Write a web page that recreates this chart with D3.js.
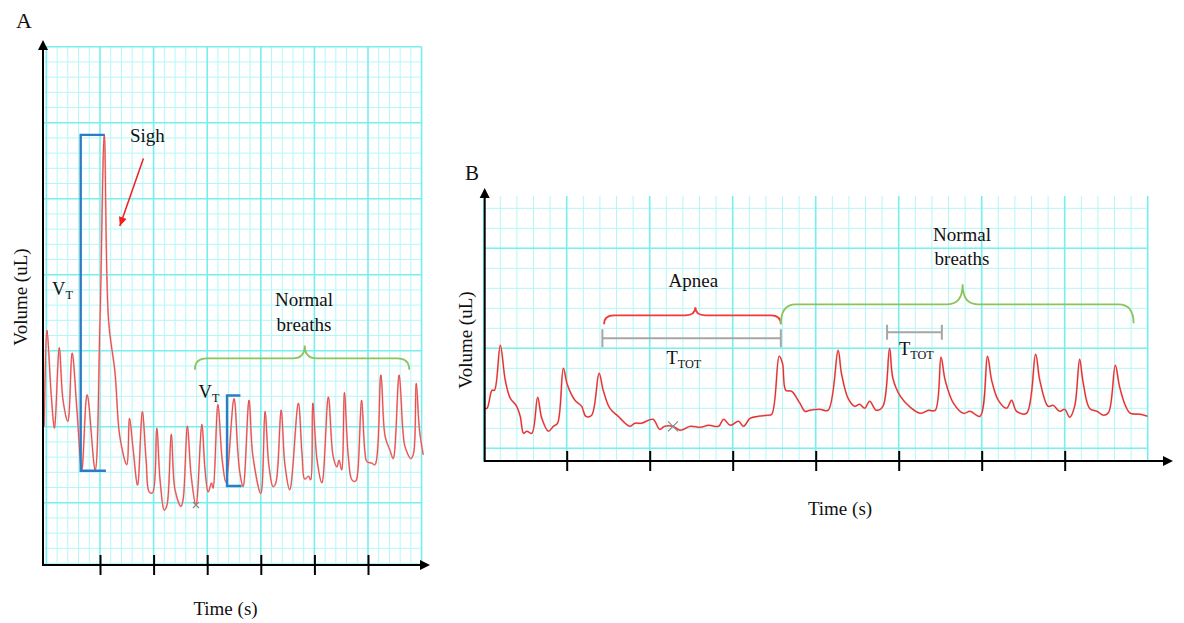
<!DOCTYPE html>
<html><head><meta charset="utf-8">
<script src="https://cdn.jsdelivr.net/npm/d3@7"></script>
<style>
body{margin:0;background:#fff}
svg{display:block}
text{font-family:"Liberation Serif","Times New Roman",serif;fill:#111}
</style>
</head><body>
<svg id="c" width="1184" height="623"></svg>
<script>
// ---------- DATA (panel A: sigh recording) ----------
const timeA = [-0.04,0.01,0.09,0.15,0.24,0.31,0.40,0.48,0.57,0.66,0.76,0.91,1.00,1.08,1.16,1.28,1.37,1.50,1.55,1.62,1.70,1.79,1.86,1.92,1.98,2.06,2.12,2.20,2.25,2.33,2.40,2.51,2.55,2.63,2.70,2.79,2.90,2.96,3.02,3.08,3.11,3.20,3.28,3.35,3.50,3.57,3.61,3.67,3.78,3.85,4.00,4.08,4.15,4.23,4.28,4.38,4.45,4.54,4.70,4.77,4.82,4.89,4.93,4.97,5.05,5.14,5.26,5.35,5.42,5.46,5.51,5.56,5.63,5.70,5.76,5.79,5.88,5.94,5.98,6.07,6.13,6.24,6.32,6.41,6.47,6.58,6.65,6.69,6.80,6.85,6.90,6.96,7.03];
const volA  = [2.00,3.27,2.42,1.98,3.04,2.35,2.07,2.97,2.22,1.43,2.42,1.43,3.40,5.84,3.40,2.71,1.87,1.50,2.11,1.69,1.23,2.20,1.56,1.14,1.13,1.98,1.30,0.90,0.97,1.90,1.17,0.95,1.04,2.01,1.36,0.97,2.03,1.43,1.14,1.26,1.19,2.29,1.56,1.27,2.37,1.69,1.39,1.21,2.35,1.63,1.12,2.20,1.50,1.21,1.26,2.22,1.50,1.17,2.31,1.63,1.31,1.35,1.30,2.31,1.56,1.26,2.39,1.61,1.47,1.56,1.43,2.45,1.63,1.30,1.28,1.31,2.35,1.69,1.54,1.52,1.50,2.68,1.87,1.69,1.58,2.68,1.96,1.74,1.58,1.65,2.57,1.96,1.63];
// ---------- DATA (panel B: apnea recording) ----------
const timeB = [0.01,0.04,0.10,0.13,0.20,0.26,0.32,0.39,0.44,0.48,0.52,0.58,0.65,0.70,0.78,0.84,0.89,0.96,1.01,1.10,1.18,1.23,1.30,1.39,1.44,1.52,1.62,1.76,1.82,1.90,2.04,2.12,2.18,2.28,2.37,2.49,2.61,2.71,2.83,2.89,2.97,3.07,3.13,3.21,3.31,3.41,3.47,3.56,3.60,3.64,3.71,3.81,3.87,3.93,4.05,4.15,4.27,4.31,4.39,4.47,4.53,4.59,4.65,4.73,4.81,4.89,4.93,5.02,5.14,5.26,5.36,5.44,5.51,5.56,5.66,5.78,5.86,5.98,6.07,6.12,6.20,6.30,6.36,6.42,6.54,6.65,6.70,6.80,6.86,6.94,7.00,7.06,7.12,7.18,7.22,7.30,7.39,7.47,7.53,7.61,7.66,7.73,7.79,7.91,8.00];
const volB  = [1.40,1.40,1.58,1.58,2.03,1.68,1.50,1.43,1.32,1.15,1.17,1.15,1.51,1.30,1.17,1.22,1.25,1.80,1.63,1.48,1.42,1.32,1.33,1.75,1.58,1.40,1.32,1.22,1.25,1.25,1.29,1.19,1.22,1.22,1.18,1.22,1.21,1.23,1.22,1.29,1.23,1.27,1.22,1.30,1.32,1.33,1.34,1.92,1.85,1.58,1.57,1.45,1.37,1.38,1.39,1.38,1.98,1.75,1.50,1.42,1.44,1.40,1.47,1.38,1.42,2.00,1.70,1.52,1.41,1.35,1.38,1.38,1.91,1.68,1.45,1.35,1.37,1.32,1.92,1.68,1.48,1.40,1.48,1.37,1.35,1.94,1.68,1.42,1.43,1.37,1.39,1.31,1.42,1.89,1.67,1.40,1.37,1.33,1.36,1.83,1.62,1.43,1.35,1.34,1.32];
const ticksA = [1,2,3,4,5,6];
const ticksB = [1,2,3,4,5,6,7];
const markA = [2.79, 0.97];           // "x" marker, panel A
const markB = [2.28, 1.22];           // "x" marker, panel B
const panelLabels = ["A","B"];
const xTitle = "Time (s)";
const yTitle = "Volume (uL)";
const noteSigh = "Sigh";
const noteNormal = ["Normal","breaths"];
const noteApnea = "Apnea";

// ---------- SETUP ----------
const svg = d3.select("#c");
const FONT = 19;
const C_MINOR = "#b4f7f7", C_MAJOR = "#78eeee";
const BLUE = "#2f7cc6", GREEN = "#8cc35c", GRAY = "#a6a6a6", RED = "#f01e1e";

function arrowHead(g, x, y, dir){
  const s = 5, l = 10;
  const pts = dir==="up" ? [[x,y],[x-s,y+l],[x+s,y+l]] : [[x,y],[x-l,y-s],[x-l,y+s]];
  g.append("path").attr("d","M"+pts.map(p=>p.join(",")).join("L")+"Z").attr("fill","#000");
}

function grid(g, x, y, tMax, vMin, vMax, yTop, yBot, xLeft, xRight){
  const vt = d3.range(0, tMax+1e-6, 0.2).map(d=>+d.toFixed(2));
  const hv = d3.range(vMin, vMax+1e-6, 0.2).map(d=>+d.toFixed(2));
  const isMaj = d => Math.abs(d-Math.round(d))<1e-6;
  g.selectAll(null).data(vt.filter(d=>!isMaj(d))).join("line")
    .attr("x1",d=>x(d)).attr("x2",d=>x(d)).attr("y1",yTop).attr("y2",yBot)
    .attr("stroke",C_MINOR).attr("stroke-width",1);
  g.selectAll(null).data(hv.filter(d=>!isMaj(d))).join("line")
    .attr("y1",d=>y(d)).attr("y2",d=>y(d)).attr("x1",xLeft).attr("x2",xRight)
    .attr("stroke",C_MINOR).attr("stroke-width",1);
  g.selectAll(null).data(vt.filter(isMaj)).join("line")
    .attr("x1",d=>x(d)).attr("x2",d=>x(d)).attr("y1",yTop).attr("y2",yBot)
    .attr("stroke",C_MAJOR).attr("stroke-width",1.6);
  g.selectAll(null).data(hv.filter(isMaj)).join("line")
    .attr("y1",d=>y(d)).attr("y2",d=>y(d)).attr("x1",xLeft).attr("x2",xRight)
    .attr("stroke",C_MAJOR).attr("stroke-width",1.6);
}

function axes(g, x, ticks, axX, axY, yTopArrow, xRightArrow){
  const ax = g.append("g").attr("transform",`translate(0,${axY})`)
    .call(d3.axisBottom(x).tickValues(ticks).tickFormat("").tickSizeOuter(0));
  ax.select(".domain").remove();
  ax.selectAll(".tick line").attr("y1",-10).attr("y2",10).attr("stroke","#000").attr("stroke-width",2);
  g.append("line").attr("x1",axX).attr("x2",xRightArrow-8).attr("y1",axY).attr("y2",axY).attr("stroke","#000").attr("stroke-width",2);
  g.append("line").attr("x1",axX).attr("x2",axX).attr("y1",axY+1).attr("y2",yTopArrow+8).attr("stroke","#000").attr("stroke-width",2);
  arrowHead(g, xRightArrow, axY, "right");
  arrowHead(g, axX, yTopArrow, "up");
}

function brace(g, x1, x2, xm, y, yEndL, yEndR, yPeak, rx, color){
  const p = d3.path();
  p.moveTo(x1, yEndL);
  p.quadraticCurveTo(x1, y, x1+rx, y);
  p.lineTo(xm-rx, y);
  p.quadraticCurveTo(xm, y, xm, yPeak);
  p.quadraticCurveTo(xm, y, xm+rx, y);
  p.lineTo(x2-rx, y);
  p.quadraticCurveTo(x2, y, x2, yEndR);
  g.append("path").attr("d",p.toString()).attr("fill","none").attr("stroke",color).attr("stroke-width",1.8);
}

function cross(g, cx, cy, s, color){
  g.append("path").attr("d",`M${cx-s},${cy-s}L${cx+s},${cy+s}M${cx-s},${cy+s}L${cx+s},${cy-s}`)
    .attr("stroke",color).attr("stroke-width",1.2);
}

function sub(g, x, y, main, subTxt, size){
  const t = g.append("text").attr("x",x).attr("y",y).attr("font-size",size);
  t.append("tspan").text(main);
  t.append("tspan").attr("font-size",size*0.66).attr("dy",4).text(subTxt);
}

// ---------- PANEL A ----------
const gA = svg.append("g");
const xA = d3.scaleLinear().domain([0,7]).range([46.4,421.6]);
const yA = d3.scaleLinear().domain([0,7]).range([578.7,46.7]);
grid(gA, xA, yA, 7, 0.2, 7, yA(7), 565, 43, xA(7));

const lineA = d3.line().curve(d3.curveCatmullRom.alpha(0.5)).x((d,i)=>xA(timeA[i])).y((d,i)=>yA(volA[i]));
gA.append("path").attr("d",lineA(timeA)).attr("fill","none").attr("stroke","#f5b0b0").attr("stroke-width",1.9).attr("stroke-linejoin","round");
gA.append("path").attr("d",lineA(timeA)).attr("fill","none").attr("stroke","#e23c3c").attr("stroke-width",0.9).attr("stroke-linejoin","round");
cross(gA, xA(markA[0]), yA(markA[1]), 3, "#8a8a8a");

axes(gA, xA, ticksA, 43, 565, 40, 430);

function bracket(g, x, y, xv, xTopEnd, xBotEnd, vTop, vBot){
  const p = `M${x(xTopEnd)},${y(vTop)}L${x(xv)},${y(vTop)}L${x(xv)},${y(vBot)}L${x(xBotEnd)},${y(vBot)}`;
  g.append("path").attr("d",p).attr("fill","none").attr("stroke",BLUE).attr("stroke-width",2.4);
}
bracket(gA, xA, yA, 0.64, 1.09, 1.11, 5.84, 1.42);
bracket(gA, xA, yA, 3.37, 3.62, 3.64, 2.41, 1.22);

const sx1 = xA(1.81), sy1 = yA(5.53), sx2 = xA(1.37), sy2 = yA(4.64);
gA.append("line").attr("x1",sx1).attr("y1",sy1).attr("x2",sx2).attr("y2",sy2).attr("stroke",RED).attr("stroke-width",1.5);
{
  const ang = Math.atan2(sy2-sy1, sx2-sx1), L=9, W=4;
  const bx = sx2 - L*Math.cos(ang), by = sy2 - L*Math.sin(ang);
  const px = -Math.sin(ang)*W, py = Math.cos(ang)*W;
  gA.append("path").attr("d",`M${sx2},${sy2}L${bx+px},${by+py}L${bx-px},${by-py}Z`).attr("fill",RED);
}
brace(gA, xA(2.77), xA(6.77), xA(4.82), yA(2.90), yA(2.75), yA(2.75), yA(3.07), 12, GREEN);

gA.append("text").attr("x",16).attr("y",28).attr("font-size",22).text(panelLabels[0]);
gA.append("text").attr("x",130).attr("y",142).attr("font-size",FONT).text(noteSigh);
sub(gA, 52, 295, "V", "T", 18.5);
sub(gA, 198.5, 398, "V", "T", 18.5);
gA.append("text").attr("x",304).attr("y",306).attr("font-size",FONT).attr("text-anchor","middle").text(noteNormal[0]);
gA.append("text").attr("x",304).attr("y",331).attr("font-size",FONT).attr("text-anchor","middle").text(noteNormal[1]);
gA.append("text").attr("x",225.5).attr("y",615).attr("font-size",FONT).attr("text-anchor","middle").text(xTitle);
gA.append("text").attr("transform","translate(26.5,297) rotate(-90)").attr("font-size",FONT).attr("text-anchor","middle").text(yTitle);

// ---------- PANEL B ----------
const gB = svg.append("g");
const xB = d3.scaleLinear().domain([0,8]).range([483.7,1147.7]);
const yB = d3.scaleLinear().domain([0,3.52]).range([548.3,196.3]);
grid(gB, xB, yB, 8, 1.0, 3.4, 196, 461, 484.7, xB(8));

const lineB = d3.line().curve(d3.curveCatmullRom.alpha(0.5)).x((d,i)=>xB(timeB[i])).y((d,i)=>yB(volB[i]));
gB.append("path").attr("d",lineB(timeB)).attr("fill","none").attr("stroke","#f4a3a3").attr("stroke-width",1.9).attr("stroke-linejoin","round");
gB.append("path").attr("d",lineB(timeB)).attr("fill","none").attr("stroke","#e02a2a").attr("stroke-width",1.1).attr("stroke-linejoin","round");
cross(gB, xB(markB[0]), yB(markB[1]), 5, "#8a8a8a");

axes(gB, xB, ticksB, 484.7, 461, 188, 1173);

brace(gB, xB(1.45), xB(3.58), xB(2.55), yB(2.33), yB(2.24), yB(2.24), yB(2.41), 10, "#f03a3a");
brace(gB, xB(3.58), xB(7.83), xB(5.77), yB(2.44), yB(2.24), yB(2.25), yB(2.64), 15, GREEN);

function tbar(g, x, y, t1, t2, v, h){
  const y0 = y(v);
  g.append("path").attr("d",`M${x(t1)},${y0}L${x(t2)},${y0}M${x(t1)},${y0-h}L${x(t1)},${y0+h}M${x(t2)},${y0-h}L${x(t2)},${y0+h}`)
    .attr("stroke",GRAY).attr("stroke-width",2).attr("fill","none");
}
tbar(gB, xB, yB, 1.43, 3.58, 2.10, 9);
tbar(gB, xB, yB, 4.86, 5.52, 2.16, 7.5);

gB.append("text").attr("x",465).attr("y",180).attr("font-size",21).text(panelLabels[1]);
gB.append("text").attr("x",693.3).attr("y",287).attr("font-size",FONT).attr("text-anchor","middle").text(noteApnea);
gB.append("text").attr("x",962).attr("y",241).attr("font-size",FONT).attr("text-anchor","middle").text(noteNormal[0]);
gB.append("text").attr("x",962).attr("y",264.5).attr("font-size",FONT).attr("text-anchor","middle").text(noteNormal[1]);
sub(gB, 666.5, 364, "T", "TOT", 18.5);
sub(gB, 899, 355, "T", "TOT", 18.5);
gB.append("text").attr("x",840).attr("y",515).attr("font-size",FONT).attr("text-anchor","middle").text(xTitle);
gB.append("text").attr("transform","translate(471.5,340) rotate(-90)").attr("font-size",FONT).attr("text-anchor","middle").text(yTitle);
</script>
</body></html>
